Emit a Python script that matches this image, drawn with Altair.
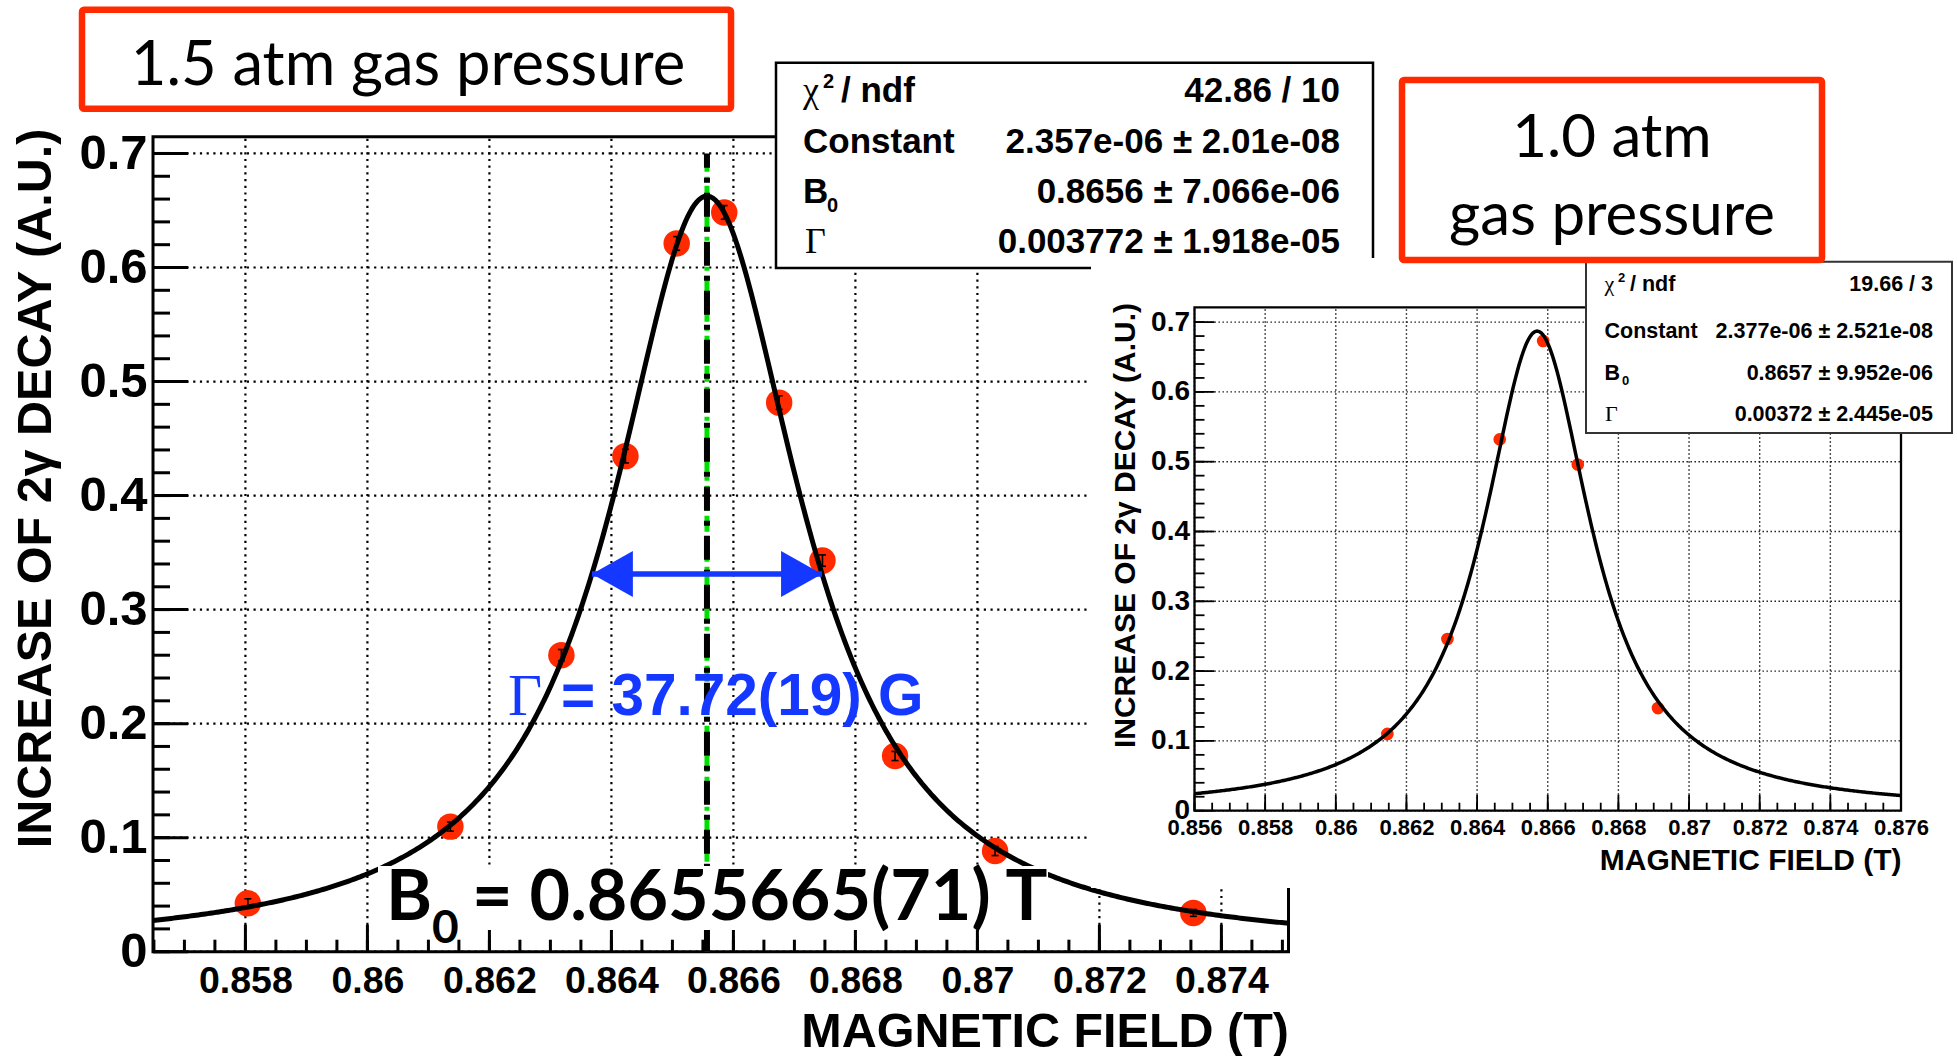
import altair as alt
import numpy as np
import pandas as pd

# ---------------------------------------------------------------
# Measured increase of 2-gamma decay versus magnetic field
# ---------------------------------------------------------------
# 1.5 atm gas pressure
field_15 = [0.85804, 0.86136, 0.86318, 0.86423, 0.86507, 0.86585,
            0.86675, 0.86746, 0.86865, 0.87029, 0.87354]
decay_15 = [0.0424, 0.1097, 0.2600, 0.4346, 0.6211, 0.6483,
            0.4815, 0.3430, 0.1716, 0.0883, 0.0340]
error_15 = [0.004, 0.004, 0.005, 0.006, 0.006, 0.006,
            0.006, 0.005, 0.004, 0.004, 0.003]

# 1.0 atm gas pressure
field_10 = [0.86146, 0.86316, 0.86464, 0.86587, 0.86685, 0.86912]
decay_10 = [0.110, 0.246, 0.532, 0.673, 0.496, 0.147]

# Lorentzian fits:  f(B) = Constant / ((B - B0)^2 + (Gamma/2)^2)
fit_15 = {"Constant": 2.357e-06, "B0": 0.8655665, "Gamma": 0.003772}
fit_10 = {"Constant": 2.377e-06, "B0": 0.8657, "Gamma": 0.00372}

stats_15 = ["42.86 / 10", "2.357e-06 \u00b1 2.01e-08",
            "0.8656 \u00b1 7.066e-06", "0.003772 \u00b1 1.918e-05"]
stats_10 = ["19.66 / 3", "2.377e-06 \u00b1 2.521e-08",
            "0.8657 \u00b1 9.952e-06", "0.00372 \u00b1 2.445e-05"]

# Axis ranges and tick values
xdom_15 = [0.856485, 0.8751]
ydom_15 = [0.0, 0.7147]
xdom_10 = [0.856, 0.876]
ydom_10 = [0.0, 0.7212]
xmajor_15 = [0.858, 0.860, 0.862, 0.864, 0.866, 0.868, 0.870, 0.872, 0.874]
xmajor_10 = [0.856, 0.858, 0.860, 0.862, 0.864, 0.866, 0.868, 0.870,
             0.872, 0.874, 0.876]
ymajor = [0.0, 0.1, 0.2, 0.3, 0.4, 0.5, 0.6, 0.7]
marker_span_15 = [0.0, 0.7]

X_TITLE = "MAGNETIC FIELD (T)"
Y_TITLE = "INCREASE OF 2\u03b3 DECAY (A.U.)"
width_label = "= 37.72(19) G"
center_label = "= 0.8655665(71) T"

# ---------------------------------------------------------------
W, H = 1957, 1056
SANS = "Liberation Sans"
SERIF = "Liberation Serif"
SLIDE = "Lato"
RED = "#FF2A00"
BLUE = "#1438FF"
GREEN = "#00E000"


def minor_ticks(lo, hi, step):
    n0 = int(np.ceil(lo / step - 1e-9))
    n1 = int(np.floor(hi / step + 1e-9))
    return [round(i * step, 6) for i in range(n0, n1 + 1)]


def lorentz(fit, dom, n=500):
    b = np.linspace(dom[0], dom[1], n)
    y = fit["Constant"] / ((b - fit["B0"]) ** 2 + (fit["Gamma"] / 2) ** 2)
    return pd.DataFrame({"b": b, "y": y})


def build_panel(sty, xdom, ydom, xmaj, field, decay, fit, errors=None):
    xs = alt.Scale(domain=xdom, range=[sty["left"], sty["right"]], nice=False, zero=False)
    ys = alt.Scale(domain=ydom, range=[sty["bottom"], sty["top"]], nice=False, zero=False)

    common = dict(ticks=False, domain=False, grid=False, labels=True,
                  labelFont=SANS, labelFontWeight="bold", labelColor="black",
                  labelFlush=False, labelOverlap=False, format="~g",
                  titleFont=SANS, titleFontWeight="bold", titleColor="black",
                  titleFontSize=sty["title"], zindex=1)
    ax_x = alt.Axis(orient="bottom", offset=sty["bottom"] - H, values=xmaj,
                    labelFontSize=sty["xlab"], labelPadding=sty["xpad"],
                    title=X_TITLE, titleAlign="right", titleBaseline="middle",
                    titleX=sty["xtitle_x"], titleY=sty["xtitle_y"] - sty["bottom"],
                    **common)
    ax_y = alt.Axis(orient="left", offset=-sty["left"], values=ymajor,
                    labelFontSize=sty["ylab"], labelPadding=sty["ypad"],
                    title=Y_TITLE, titleAngle=270, titleAlign="center",
                    titleBaseline="middle", titleX=sty["ytitle_x"] - sty["left"],
                    titleY=sty["ytitle_y"], **common)

    def X(f, axis=None):
        return alt.X(f, scale=xs, axis=axis)

    def Y(f, axis=None):
        return alt.Y(f, scale=ys, axis=axis)

    layers = []
    # dotted grid
    vgrid = alt.Chart(pd.DataFrame({"v": xmaj, "y0": ydom[0], "y1": ydom[1]})).mark_rule(
        color=sty["grid_color"], strokeWidth=sty["grid_w"], strokeDash=sty["grid_dash"]
    ).encode(x=X("v:Q"), y=Y("y0:Q"), y2="y1:Q")
    hgrid = alt.Chart(pd.DataFrame({"v": ymajor, "x0": xdom[0], "x1": xdom[1]})).mark_rule(
        color=sty["grid_color"], strokeWidth=sty["grid_w"], strokeDash=sty["grid_dash"]
    ).encode(y=Y("v:Q"), x=X("x0:Q"), x2="x1:Q")
    layers += [vgrid, hgrid]

    # inward tick marks
    for vals, length in [(minor_ticks(xdom[0], xdom[1], 0.0005), sty["xmin_len"]),
                         (xmaj, sty["xmaj_len"])]:
        layers.append(alt.Chart(pd.DataFrame({"v": vals, "y0": ydom[0]})).mark_tick(
            orient="vertical", size=length, thickness=sty["tick_w"], yOffset=-length / 2,
            color="black", opacity=1
        ).encode(x=X("v:Q"), y=Y("y0:Q")))
    for vals, length in [(minor_ticks(ydom[0], 0.7, 0.02), sty["ymin_len"]),
                         (ymajor, sty["ymaj_len"])]:
        layers.append(alt.Chart(pd.DataFrame({"v": vals, "x0": xdom[0]})).mark_tick(
            orient="horizontal", size=length, thickness=sty["tick_w"], xOffset=length / 2,
            color="black", opacity=1
        ).encode(y=Y("v:Q"), x=X("x0:Q")))

    # measured points
    pts = pd.DataFrame({"b": field, "y": decay})
    layers.append(alt.Chart(pts).mark_circle(size=sty["point_size"], color=RED, opacity=1)
                  .encode(x=X("b:Q"), y=Y("y:Q")))
    if errors is not None:
        eb = pd.DataFrame({"b": field, "lo": np.array(decay) - np.array(errors),
                           "hi": np.array(decay) + np.array(errors)})
        layers.append(alt.Chart(eb).mark_rule(color="black", strokeWidth=1.6)
                      .encode(x=X("b:Q"), y=Y("lo:Q"), y2="hi:Q"))
        for col in ["lo", "hi"]:
            layers.append(alt.Chart(eb).mark_tick(orient="horizontal", size=7, thickness=1.6,
                                                  color="black", opacity=1)
                          .encode(x=X("b:Q"), y=Y(f"{col}:Q")))

    # fitted Lorentzian
    layers.append(alt.Chart(lorentz(fit, xdom)).mark_line(color="black", strokeWidth=sty["curve_w"])
                  .encode(x=X("b:Q"), y=Y("y:Q")))

    # frame carrying the axes
    frame = pd.DataFrame({"x0": [xdom[0]], "x1": [xdom[1]], "y0": [ydom[0]], "y1": [ydom[1]]})
    layers.append(alt.Chart(frame).mark_rect(fillOpacity=0, stroke="black",
                                             strokeWidth=sty["frame_w"])
                  .encode(x=X("x0:Q", ax_x), x2="x1:Q", y=Y("y0:Q", ax_y), y2="y1:Q"))
    return layers, X, Y


def note(text, x, y, size, font=SANS, weight="bold", align="left", color="black",
         baseline="alphabetic"):
    return alt.Chart(pd.DataFrame({"t": [text]})).mark_text(
        font=font, fontSize=size, fontWeight=weight, align=align, baseline=baseline,
        color=color
    ).encode(x=alt.value(x), y=alt.value(y), text="t:N")


def box(x0, y0, x1, y1, stroke=None, sw=0, radius=0):
    kw = dict(fill="white", cornerRadius=radius)
    if stroke:
        kw.update(stroke=stroke, strokeWidth=sw)
    return alt.Chart(pd.DataFrame({"k": [0]})).mark_rect(**kw).encode(
        x=alt.value(x0), x2=alt.value(x1), y=alt.value(y0), y2=alt.value(y1))


style_15 = dict(left=153.0, right=1288.5, bottom=951.7, top=136.7, frame_w=3,
                grid_w=2.2, grid_dash=[2.2, 4.5], grid_color="black",
                xmaj_len=27, xmin_len=12, ymaj_len=35, ymin_len=17, tick_w=3,
                xlab=37.5, ylab=49, xpad=11, ypad=6, title=48.5,
                xtitle_x=1288.5, xtitle_y=1031, ytitle_x=35, ytitle_y=488,
                curve_w=5, point_size=700)
style_10 = dict(left=1194.5, right=1901.0, bottom=810.7, top=307.3, frame_w=2.3,
                grid_w=1.4, grid_dash=[1.4, 2.6], grid_color="#111111",
                xmaj_len=16, xmin_len=8, ymaj_len=20, ymin_len=10, tick_w=1.8,
                xlab=22, ylab=28, xpad=7, ypad=5, title=30,
                xtitle_x=1901, xtitle_y=860, ytitle_x=1125, ytitle_y=525,
                curve_w=3.5, point_size=160)

# ---------------- 1.5 atm panel ----------------
layers_15, X15, Y15 = build_panel(style_15, xdom_15, ydom_15, xmajor_15,
                                  field_15, decay_15, fit_15, error_15)

b0 = fit_15["B0"]
half_g = fit_15["Gamma"] / 2
half_max = fit_15["Constant"] / half_g ** 2 / 2
marker = pd.DataFrame({"b": [b0], "y0": [marker_span_15[0]], "y1": [marker_span_15[1]]})
green_line = alt.Chart(marker).mark_rule(color=GREEN, strokeWidth=5,
                                         strokeDash=[16, 5, 4, 5]).encode(
    x=X15("b:Q"), y=Y15("y0:Q"), y2="y1:Q")
black_line = alt.Chart(marker).mark_rule(color="black", strokeWidth=6,
                                         strokeDash=[24, 10, 5, 10]).encode(
    x=X15("b:Q"), y=Y15("y0:Q"), y2="y1:Q")
arrow = pd.DataFrame({"b0": [b0 - half_g], "b1": [b0 + half_g], "h": [half_max]})
shaft = alt.Chart(arrow).mark_rule(color=BLUE, strokeWidth=5.5).encode(
    x=X15("b0:Q"), x2="b1:Q", y=Y15("h:Q"))
head_l = alt.Chart(arrow).mark_point(shape="M0,0L1.78,-1L1.78,1Z", filled=True, size=2116,
                                     color=BLUE, opacity=1).encode(x=X15("b0:Q"), y=Y15("h:Q"))
head_r = alt.Chart(arrow).mark_point(shape="M0,0L-1.78,-1L-1.78,1Z", filled=True, size=2116,
                                     color=BLUE, opacity=1).encode(x=X15("b1:Q"), y=Y15("h:Q"))

panel_15 = layers_15 + [green_line, black_line, shaft, head_l, head_r]

width_note = [
    note("\u0393", 508, 715, 59, font=SERIF, weight="normal", color=BLUE),
    note(width_label, 561, 715, 58.5, color=BLUE),
]

center_note = [
    box(378, 866, 1048, 930),
    note("B", 386, 920, 70, font=SLIDE),
    note("0", 432, 943, 46, font=SLIDE),
    note(center_label, 472, 920, 70, font=SLIDE),
]

rows_15 = [102, 153, 203, 253]
stats_box_15 = [
    box(776, 62.7, 1373, 268, stroke="black", sw=2.5),
    note("\u03c7", 803, rows_15[0], 36, font=SERIF, weight="normal"),
    note("2", 823, rows_15[0] - 14, 20),
    note("/ ndf", 841, rows_15[0], 35),
    note("Constant", 803, rows_15[1], 35),
    note("B", 803, rows_15[2], 35),
    note("0", 827, rows_15[2] + 9, 20),
    note("\u0393", 805, rows_15[3], 36, font=SERIF, weight="normal"),
] + [note(s, 1340, y, 35, align="right") for s, y in zip(stats_15, rows_15)]

# white backdrop of the 1.0 atm panel
cover = [box(1091, 258, W, 888)]

# ---------------- 1.0 atm panel ----------------
layers_10, X10, Y10 = build_panel(style_10, xdom_10, ydom_10, xmajor_10,
                                  field_10, decay_10, fit_10)

rows_10 = [291, 338, 380, 421]
stats_box_10 = [
    box(1586, 261.7, 1952, 433, stroke="#333333", sw=2),
    note("\u03c7", 1604.5, rows_10[0], 22, font=SERIF, weight="normal"),
    note("2", 1618, rows_10[0] - 9, 13),
    note("/ ndf", 1630, rows_10[0], 21.5),
    note("Constant", 1604.5, rows_10[1], 21.5),
    note("B", 1604.5, rows_10[2], 21.5),
    note("0", 1622, rows_10[2] + 5, 13),
    note("\u0393", 1605, rows_10[3], 22, font=SERIF, weight="normal"),
] + [note(s, 1933, y, 21.5, align="right") for s, y in zip(stats_10, rows_10)]

# ---------------- pressure captions ----------------
captions = [
    box(82, 9.7, 731, 108.7, stroke=RED, sw=6.5, radius=2),
    note("1.5 atm gas pressure", 408, 85, 61.5, font=SLIDE, weight="normal", align="center"),
    box(1402, 80, 1822, 260, stroke=RED, sw=6.5, radius=2),
    note("1.0 atm", 1612, 157, 60, font=SLIDE, weight="normal", align="center"),
    note("gas pressure", 1612, 235, 60, font=SLIDE, weight="normal", align="center"),
]

chart = alt.layer(
    *panel_15, *width_note, *center_note, *stats_box_15, *cover,
    *layers_10, *stats_box_10, *captions
).resolve_scale(
    x="independent", y="independent"
).properties(
    width=W, height=H, padding=0,
    autosize=alt.AutoSizeParams(type="none"),
    background="white",
).configure_view(strokeWidth=0)

chart.save("out.html", embed_options={"renderer": "svg", "actions": False})
